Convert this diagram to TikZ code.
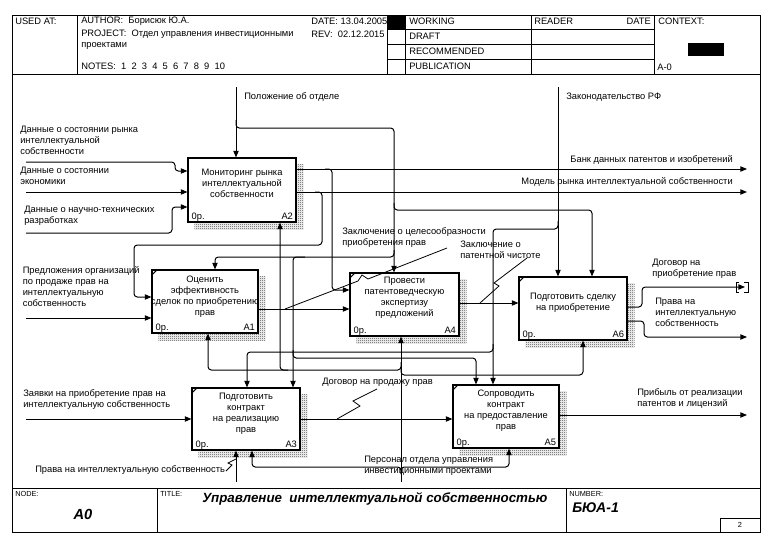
\documentclass[tikz,border=0pt]{standalone}
\usepackage{fontspec}
\setmainfont{Liberation Sans}
\usetikzlibrary{positioning}
\usetikzlibrary{arrows.meta}
\usetikzlibrary{patterns}
\usetikzlibrary{backgrounds}

\newcommand{\idfont}{\fontsize{7}{8.3}\selectfont}
\newcommand{\smallfont}{\fontsize{5.5}{6}\selectfont}

% fine checker for the box shadows
\pgfdeclarepatternformonly{finechecker}{\pgfpointorigin}{\pgfpoint{1.5pt}{1.5pt}}{\pgfpoint{1.5pt}{1.5pt}}{
 \pgfpathrectangle{\pgfpointorigin}{\pgfpoint{0.75pt}{0.75pt}}
 \pgfpathrectangle{\pgfpoint{0.75pt}{0.75pt}}{\pgfpoint{0.75pt}{0.75pt}}
 \pgfusepath{fill}}

\tikzset{
  fbox/.style={draw, line width=0.8pt, fill=white, inner sep=0pt},
  btext/.style={align=center, inner sep=0pt, font=\idfont},
  lbl/.style={align=left, inner sep=0pt, font=\idfont, anchor=north west},
  htext/.style={inner sep=0pt, font=\idfont, anchor=west},
  flow/.style={line width=0.75pt, rounded corners=2.5pt, -{Triangle[length=5pt,width=4pt]}},
  lead/.style={line width=0.6pt},
  frame/.style={line width=0.75pt},
  shadow/.style={pattern=finechecker, pattern color=black!75},
}

\begin{document}
\begin{tikzpicture}[x=0.75pt, y=-0.75pt]
 \useasboundingbox (0,0) rectangle (774,553);
 % frame
 \draw[frame] (12,15) rectangle (760,532);
 \draw[frame] (12,74) -- (760,74);
 \draw[frame] (12,488) -- (760,488);
 \foreach \x in {77,387,405,531,654}
  \draw[frame] (\x,15) -- (\x,74);
 \foreach \y in {29,44,59}
  \draw[frame] (387,\y) -- (654,\y);
 \fill (387,15) rectangle (405,29);
 \fill (688,43) rectangle (724,56);
 \foreach \x in {157,566}
  \draw[frame] (\x,488) -- (\x,532);
 \draw[frame] (720,518) rectangle (760,532);
 % header texts
 \node[htext] (usedat) at (15,21) {USED AT:};
 \node[htext] (author) at (81,21) {AUTHOR:\ \ Борисюк Ю.А.};
 \node[htext] (date) at (311,21) {DATE: 13.04.2005};
 \node[htext] (project) at (81,34) {PROJECT:\ \ Отдел управления инвестиционными};
 \node[htext] (project2) at (81,46) {проектами};
 \node[htext] (rev) at (311,34) {REV:\ \ 02.12.2015};
 \node[htext] (notes) at (81,66) {NOTES:\ \ 1\ \ 2\ \ 3\ \ 4\ \ 5\ \ 6\ \ 7\ \ 8\ \ 9\ \ 10};
 \node[htext] (working) at (409,21) {WORKING};
 \node[htext] (draft) at (409,36) {DRAFT};
 \node[htext] (recom) at (409,51) {RECOMMENDED};
 \node[htext] (publ) at (409,66) {PUBLICATION};
 \node[htext] (reader) at (534,21) {READER};
 \node[htext, anchor=east] (rdate) at (651,21) {DATE};
 \node[htext] (context) at (658,21) {CONTEXT:};
 \node[htext] (ctxnode) at (657,67) {A-0};
 % footer texts
 \node[htext, font=\smallfont] (nodelbl) at (15,494) {NODE:};
 \node[htext, font=\smallfont] (titlelbl) at (160,494) {TITLE:};
 \node[htext, font=\smallfont] (numlbl) at (569,494) {NUMBER:};
 \node[inner sep=0pt, font=\bfseries\itshape\fontsize{11}{12}\selectfont] (nodeval) at (83,514) {A0};
 \node[inner sep=0pt, font=\bfseries\itshape\fontsize{10}{12}\selectfont] (title) at (375,499) {Управление\ \ интеллектуальной собственностью};
 \node[htext, font=\bfseries\itshape\fontsize{10.5}{12}\selectfont] (numval) at (572,508) {БЮА-1};
 \node[inner sep=0pt, font=\smallfont] (page) at (740,525) {2};

 % activity boxes
 \node[fbox, minimum width=81pt, minimum height=48pt] (a2) at (242,190) {};
 \node[fbox, minimum width=79.5pt, minimum height=47.25pt] (a1) at (205,301.5) {};
 \node[fbox, minimum width=81.75pt, minimum height=47.25pt] (a4) at (404.5,304.5) {};
 \node[fbox, minimum width=81pt, minimum height=47.25pt] (a6) at (573,308.5) {};
 \node[fbox, minimum width=81pt, minimum height=46.5pt] (a3) at (246,419) {};
 \node[fbox, minimum width=79.5pt, minimum height=47.25pt] (a5) at (506,416.5) {};
 \begin{scope}[on background layer]
  \foreach \b in {a1,a2,a3,a4,a5,a6}
   \fill[shadow] ([shift={(5.25pt,-5.25pt)}]\b.north west) rectangle ([shift={(5.25pt,-5.25pt)}]\b.south east);
 \end{scope}
 \node[btext, below=8.6pt of a2.north] (a2t) {Мониторинг рынка\\интеллектуальной\\собственности};
 \node[btext, below=4.6pt of a1.north] (a1t) {Оценить\\эффективность\\сделок по приобретению\\прав};
 \node[btext, below=3.2pt of a4.north] (a4t) {Провести\\патентоведческую\\экспертизу\\предложений};
 \node[btext, below=12.4pt of a6.north] (a6t) {Подготовить сделку\\на приобретение};
 \node[btext, below=4.1pt of a3.north] (a3t) {Подготовить\\контракт\\на реализацию\\прав};
 \node[btext, below=4.1pt of a5.north] (a5t) {Сопроводить\\контракт\\на предоставление\\прав};
 \foreach \b/\n in {a1/A1,a2/A2,a3/A3,a4/A4,a5/A5,a6/A6} {
  \node[btext, anchor=base west] (\b c) at ([shift={(3pt,2.2pt)}]\b.south west) {0р.};
  \node[btext, anchor=base east] (\b n) at ([shift={(-2.5pt,2.2pt)}]\b.south east) {\n};
 }
 \foreach \b in {a1,a3,a4,a5,a6}
  \draw[frame] ([yshift=-4.5pt]\b.north west) -- ([xshift=4.5pt]\b.north west);

 % free ends
 \coordinate (in1) at (26,162);
 \coordinate (in2) at (26,192);
 \coordinate (in3) at (26,233);
 \coordinate (in4) at (26,318);
 \coordinate (in5) at (26,419);
 \coordinate (ctl1) at (236,87);
 \coordinate (ctl2) at (558,87);
 \coordinate (mec1) at (401,482);
 \coordinate (mec2) at (236,482);
 \coordinate (out1) at (747,169);
 \coordinate (out2) at (747,192);
 \coordinate (out3) at (745,287);
 \coordinate (out4) at (747,337);
 \coordinate (out5) at (747,415);

 % inputs
 \draw[flow] (in1) -- (175,162) -- (175,171) -- (a2.west |- 0,171);
 \draw[flow] (in2) -- (a2.west |- in2);
 \draw[flow] (in3) -- (172,233) -- (172,207) -- (a2.west |- 0,207);
 \draw[flow] (in4) -- (a1.west |- in4);
 \draw[flow] (in5) -- (a3.west |- in5);
 % controls
 \draw[flow] (ctl1) -- (ctl1 |- a2.north);
 \draw[flow] (236,120) -- (236,128) -- (394,128) -- (a4.north -| 394,0);
 \draw[flow] (394,203) -- (394,210) -- (592,210) -- (a6.north -| 592,0);
 \draw[flow] (394,250) -- (394,257) -- (215,257) -- (a1.north -| 215,0);
 \draw[flow] (305,257) -- (293,257) -- (a3.north -| 293,0);
 \draw[flow] (293,350) -- (293,358) -- (476,358) -- (a5.north -| 476,0);
 \draw[flow] (ctl2) -- (ctl2 |- a6.north);
 \draw[flow] (558,221) -- (558,229) -- (493,229) -- (a5.north -| 493,0);
 \draw[flow] (493,344) -- (493,352) -- (247,352) -- (a3.north -| 247,0);
 % mechanisms
 \draw[flow] (mec1) -- (mec1 |- a4.south);
 \draw[flow] (401,362) -- (401,370) -- (208,370) -- (a1.south -| 208,0);
 \draw[flow] (288,370) -- (280,370) -- (a2.south -| 280,0);
 \draw[flow] (401,368) -- (401,375) -- (583,375) -- (a6.south -| 583,0);
 \draw[flow] (401,474) -- (401,467) -- (252,467) -- (a3.south -| 252,0);
 \draw[flow] (401,474) -- (401,467) -- (509,467) -- (a5.south -| 509,0);
 \draw[flow] (mec2) -- (mec2 |- a3.south);
 % outputs
 \draw[flow] (a2.east |- out1) -- (out1);
 \draw[flow] (325,169) -- (332,169) -- (332,290) -- (a4.west |- 0,290);
 \draw[flow] (a2.east |- out2) -- (out2);
 \draw[flow] (315,192) -- (322,192) -- (322,245) -- (134,245) -- (134,297) -- (a1.west |- 0,297);
 \draw[flow] (a1.east |- 0,309) -- (a4.west |- 0,309);
 \draw[flow] (a4.east |- 0,303) -- (a6.west |- 0,303);
 \draw[flow] (a6.east |- 0,307) -- (642,307) -- (642,287) -- (out3);
 \draw[frame] (739,282) -- (736,282) -- (736,292) -- (739,292);
 \draw[frame] (744,282) -- (748,282) -- (748,292) -- (744,292);
 \draw[flow] (a6.east |- 0,321) -- (644,321) -- (644,337) -- (out4);
 \draw[flow] (a3.east |- 0,419) -- (a5.west |- 0,419);
 \draw[flow] (a5.east |- out5) -- (out5);
 % squiggles
 \draw[lead] (337,419) -- (360,406) -- (353,401) -- (377,389);
 \draw[lead] (480,303) -- (499,286) -- (494,283) -- (527,258);
 \draw[lead] (285,309) -- (358,281) -- (362,275) -- (368,279) -- (447,248);
 \draw[lead] (226,471) -- (232,465) -- (228,463) -- (236,459);

 % arrow labels
 \node[lbl] (in1l) at (20,125.5) {Данные о состоянии рынка\\интеллектуальной\\собственности};
 \node[lbl] (in2l) at (20,167) {Данные о состоянии\\экономики};
 \node[lbl] (in3l) at (24,206) {Данные о научно-технических\\разработках};
 \node[lbl] (in4l) at (22.5,266) {Предложения организаций\\по продаже прав на\\интеллектуальную\\собственность};
 \node[lbl] (in5l) at (23,389.5) {Заявки на приобретение прав на\\интеллектуальную собственность};
 \node[lbl] (mec2l) at (35,465.5) {Права на интеллектуальную собственность};
 \node[lbl] (ctl1l) at (244,92) {Положение об отделе};
 \node[lbl] (ctl2l) at (566,92.5) {Законодательство РФ};
 \node[lbl, anchor=north east] (out1l) at (733,155.5) {Банк данных патентов и изобретений};
 \node[lbl, anchor=north east] (out2l) at (733,177.5) {Модель рынка интеллектуальной собственности};
 \node[lbl] (a1ol) at (342,227) {Заключение о целесообразности\\приобретения прав};
 \node[lbl] (a4ol) at (460,240.5) {Заключение о\\патентной чистоте};
 \node[lbl] (out3l) at (652,258.5) {Договор на\\приобретение прав};
 \node[lbl] (out4l) at (655,298) {Права на\\интеллектуальную\\собственность};
 \node[lbl] (a3ol) at (322,378) {Договор на продажу прав};
 \node[lbl] (out5l) at (637,388) {Прибыль от реализации\\патентов и лицензий};
 \node[lbl] (mec1l) at (364,456) {Персонал отдела управления\\инвестиционными проектами};
\end{tikzpicture}
\end{document}
